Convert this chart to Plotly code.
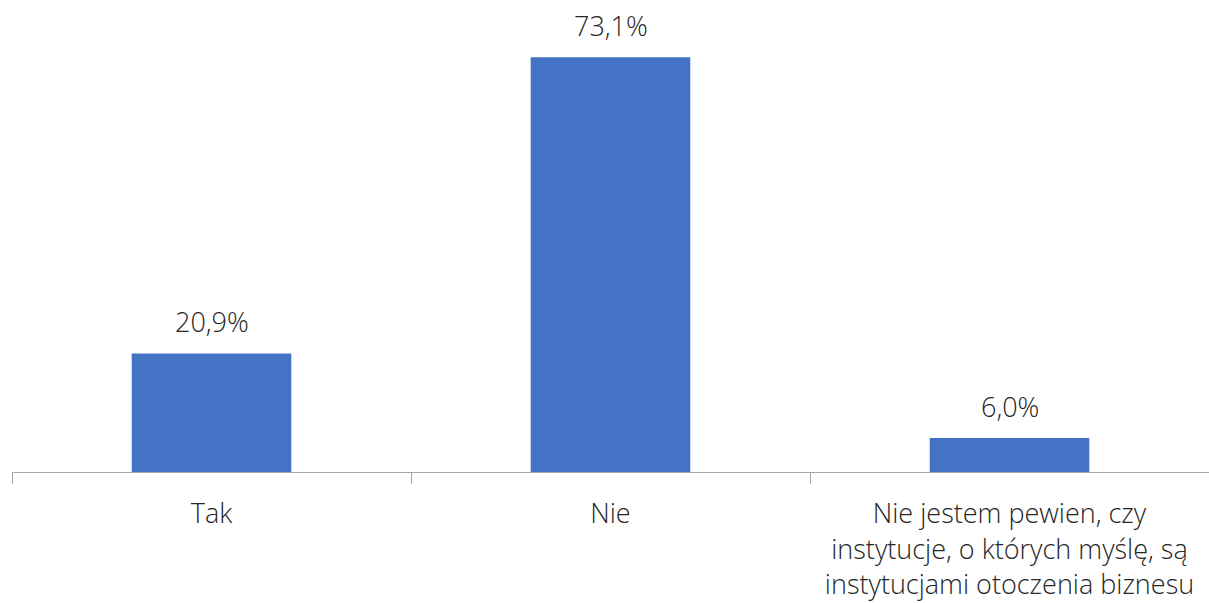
import plotly.graph_objects as go

categories = [
    "Tak",
    "Nie",
    "Nie jestem pewien, czy<br>instytucje, o których myślę, są<br>instytucjami otoczenia biznesu",
]
values = [20.9, 73.1, 6.0]

labels = [f"{v:.1f}".replace(".", ",") + "%" for v in values]

FONT = "Open Sans"
BAR = "#4472C4"
TEXT = dict(family=FONT, size=27, color="#262626", weight=300)

fig = go.Figure(
    go.Bar(
        x=categories,
        y=values,
        marker=dict(color=BAR, line=dict(width=0)),
        hoverinfo="skip",
    )
)

for c, v, t in zip(categories, values, labels):
    fig.add_annotation(
        x=c, y=v, text=t, showarrow=False,
        yanchor="bottom", yshift=11,
        font=TEXT,
    )

fig.update_layout(
    width=1209, height=603,
    margin=dict(l=12, r=0, t=18, b=131),
    paper_bgcolor="white", plot_bgcolor="white",
    bargap=0.6,
    showlegend=False,
    font=TEXT,
)
fig.update_xaxes(
    type="category",
    showline=True, linecolor="#a6a6a6", linewidth=1,
    ticks="outside", tickson="boundaries", ticklen=11, tickcolor="#a6a6a6",
    ticklabelstandoff=18,
    showgrid=False, zeroline=False,
    tickfont=TEXT,
)
fig.update_yaxes(
    range=[0, 80], visible=False, showgrid=False, zeroline=False,
)

fig.write_html("out.html")
